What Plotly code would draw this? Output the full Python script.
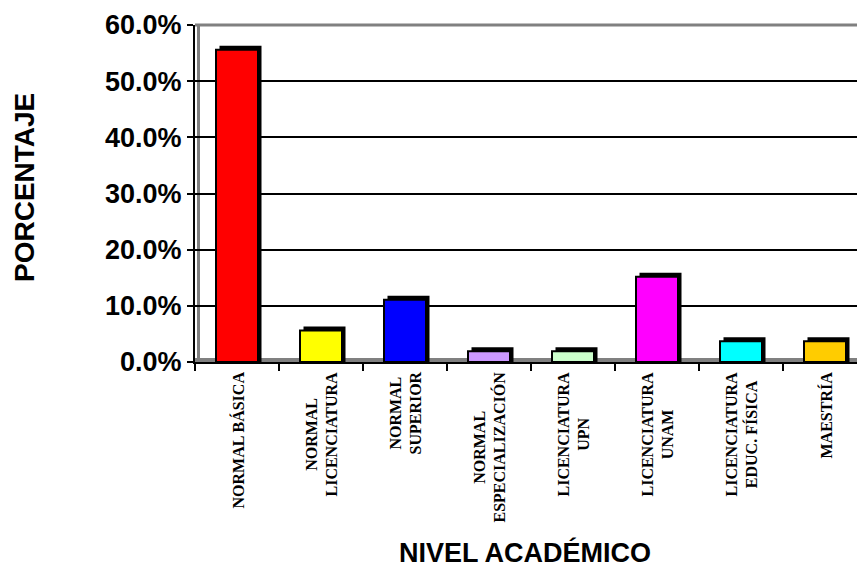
import plotly.graph_objects as go

categories = ["NORMAL BÁSICA", "NORMAL<br>LICENCIATURA", "NORMAL<br>SUPERIOR",
              "NORMAL<br>ESPECIALIZACIÓN", "LICENCIATURA<br>UPN", "LICENCIATURA<br>UNAM",
              "LICENCIATURA<br>EDUC. FÍSICA", "MAESTRÍA"]
values = [0.556, 0.056, 0.111, 0.019, 0.019, 0.152, 0.037, 0.037]
colors = ["#FF0000", "#FFFF00", "#0000FF", "#CC99FF", "#CCFFCC", "#FF00FF", "#00FFFF", "#FFCC00"]
y_ticks = [0, 0.1, 0.2, 0.3, 0.4, 0.5, 0.6]

W, H = 857, 569
L, T, B = 195, 25, 207
plot_w = W - L
plot_h = H - T - B
cat_px = 84.0
xmax = -0.5 + plot_w / cat_px
depth = 4.0 / plot_h * 0.6  # shadow depth in data units
shift = 3.5 / cat_px

fig = go.Figure()
# shadow (3D depth)
fig.add_trace(go.Bar(x=categories, y=[v + depth for v in values], width=0.5,
                     offset=-0.25 + shift, marker=dict(color="black", line=dict(width=0)),
                     hoverinfo="skip", showlegend=False))
# front faces
fig.add_trace(go.Bar(x=categories, y=values, width=0.5, offset=-0.25,
                     marker=dict(color=colors, line=dict(color="black", width=2)),
                     showlegend=False))

label_font = dict(family="Liberation Serif", size=16, color="black")
annotations = [
    dict(text="<b>" + c + "</b>", x=c, xref="x", yref="paper", y=-8 / plot_h,
         textangle=-90, xanchor="center", yanchor="top", align="center",
         showarrow=False, font=label_font)
    for c in categories
]
annotations += [
    dict(text="<b>NIVEL ACADÉMICO</b>", xref="paper", yref="paper",
         x=(525 - L) / plot_w, y=(H - B - 552) / plot_h, showarrow=False,
         xanchor="center", yanchor="middle",
         font=dict(family="Liberation Sans", size=27, color="black")),
    dict(text="<b>PORCENTAJE</b>", xref="paper", yref="paper", textangle=-90,
         x=(25 - L) / plot_w, y=(H - B - 187) / plot_h, showarrow=False,
         xanchor="center", yanchor="middle",
         font=dict(family="Liberation Sans", size=28, color="black")),
]

fig.update_layout(
    width=W, height=H, barmode="overlay",
    margin=dict(l=L, r=0, t=T, b=B, pad=0),
    paper_bgcolor="white", plot_bgcolor="white",
    showlegend=False,
    xaxis=dict(range=[-0.5, xmax], type="category", tickson="boundaries",
               ticks="outside", ticklen=7, tickwidth=2, tickcolor="black",
               showline=True, linecolor="black", linewidth=2, showgrid=False,
               showticklabels=False),
    yaxis=dict(range=[0, 0.6], tickvals=y_ticks, tickformat=".1%",
               ticks="outside", ticklen=6, tickwidth=2, tickcolor="black",
               showline=True, linecolor="black", linewidth=2,
               showgrid=True, gridcolor="black", gridwidth=2, zeroline=False,
               tickfont=dict(family="Liberation Sans", size=27, color="black", weight="bold")),
    shapes=[
        dict(type="rect", xref="paper", yref="paper", x0=0, x1=1, y0=0, y1=4 / plot_h,
             fillcolor="#808080", line=dict(width=0), layer="below"),
        dict(type="line", xref="paper", yref="paper", x0=0, x1=1, y0=1, y1=1,
             line=dict(color="#808080", width=3)),
        dict(type="line", xref="paper", yref="paper", x0=3.5 / plot_w, x1=3.5 / plot_w, y0=0, y1=1,
             line=dict(color="#808080", width=3), layer="below"),
    ],
    annotations=annotations,
)

fig.write_html("out.html")
